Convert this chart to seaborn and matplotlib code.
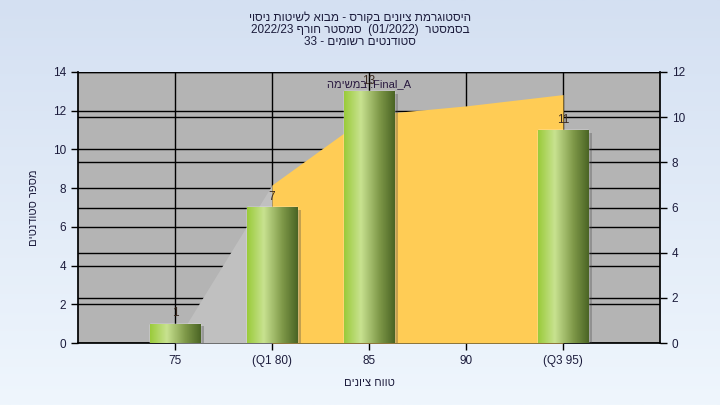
import numpy as np
import pandas as pd
import matplotlib
matplotlib.use("Agg")
import matplotlib.pyplot as plt
import matplotlib.patheffects as pe
from matplotlib.colors import LinearSegmentedColormap
import seaborn as sns

# data
grades = [75, 80, 85, 90, 95]
tick_labels = ["75", "(Q1 80)", "85", "90", "(Q3 95)"]
students = [1, 7, 13, 0, 11]
area_values = [0, 7.0, 10.1, 10.5, 11.0]   # secondary axis series

def vis(s):
    # matplotlib has no bidi support: lay the words out right to left,
    # flipping hebrew words, keeping numbers as they are
    out = []
    for tok in s.split(" ")[::-1]:
        if any("\u0590" <= c <= "\u05ff" for c in tok):
            tok = tok[::-1]
        out.append(tok)
    return " ".join(out)

title_lines = [
    vis("היסטוגרמת ציונים בקורס - מבוא לשיטות ניסוי"),
    vis("בסמסטר  (01/2022)  סמסטר חורף 2022/23"),
    vis("סטודנטים רשומים - 33"),
]
y_label = vis("מספר סטודנטים")
x_label = vis("טווח ציונים")
series_label = "במשימה"[::-1] + " :Final_A"

sns.set_theme(style="white")
plt.rcParams["font.family"] = ["Liberation Sans", "DejaVu Sans"]
text_col = "#1c1c3c"
x_range = (70, 100)

fig = plt.figure(figsize=(7.2, 4.05), dpi=100)

# background gradient
bg = fig.add_axes([0, 0, 1, 1], zorder=-10)
bg.imshow(np.linspace(0, 1, 256).reshape(-1, 1), aspect="auto",
          cmap=LinearSegmentedColormap.from_list("bg", ["#d4e0f2", "#eff6fd"]),
          extent=[0, 1, 0, 1])
bg.axis("off")

rect = [78 / 720, 62 / 405, 582 / 720, 271 / 405]
ax = fig.add_axes(rect)
ax.set_facecolor("#b4b4b4")
ax.set_xlim(*x_range)
ax.set_ylim(0, 14)
ax.set_yticks(range(0, 15, 2))
ax.set_xticks(grades)
ax.set_xticklabels(tick_labels)
ax.grid(True, color="black", lw=1)
ax.set_axisbelow(True)
ax.tick_params(direction="out", length=5, width=1, color="black",
               labelsize=8.5, labelcolor=text_col, left=True, bottom=True)
for sp in ax.spines.values():
    sp.set_color("black")
ax.spines["top"].set_visible(False)
ax.set_ylabel(y_label, fontsize=8, color=text_col, labelpad=10)
ax.set_xlabel(x_label, fontsize=8, color=text_col, labelpad=8)

# secondary axis with the area series
ax2 = ax.twinx()
ax2.set_ylim(0, 12)
ax2.set_yticks(range(0, 13, 2))
ax2.grid(True, axis="y", color="black", lw=1)
ax2.set_axisbelow(True)
ax2.tick_params(direction="out", length=5, width=1, color="black",
                labelsize=8.5, labelcolor=text_col, right=True)
for sp in ax2.spines.values():
    sp.set_visible(False)
ax2.fill_between(grades[:2], area_values[:2], color="#c0c0c0", lw=0, zorder=1)
ax2.fill_between(grades[1:], area_values[1:], color="#ffcc55", lw=0, zorder=1)

# bars on top, same scale as the left axis
ax3 = ax.twinx()
ax3.set_ylim(0, 14)
ax3.axis("off")
df = pd.DataFrame({"grade": grades, "students": students})
sns.barplot(data=df, x="grade", y="students", native_scale=True, width=2.6 / 5,
            color="#7fa040", ax=ax3, zorder=3)

cmap = LinearSegmentedColormap.from_list(
    "bar", [(0, "#9acb3a"), (0.33, "#c8e290"), (0.7, "#7e9848"), (1, "#4a6424")])
grad = np.linspace(0, 1, 256).reshape(1, -1)
for p in ax3.patches:
    if p.get_height() <= 0:
        p.set_visible(False)
        continue
    p.set_path_effects([pe.SimplePatchShadow(offset=(3, -2), shadow_rgbFace="#404040",
                                             alpha=0.3), pe.Normal()])
    x0, w, h = p.get_x(), p.get_width(), p.get_height()
    im = ax3.imshow(grad, aspect="auto", cmap=cmap, extent=[x0, x0 + w, 0, h], zorder=4)
    im.set_clip_path(p)
ax3.set_xlim(*x_range)
ax3.set_ylim(0, 14)

for x, v in zip(grades, students):
    if v > 0:
        ax3.annotate(str(v), (x, v), xytext=(0, 3), textcoords="offset points",
                     ha="center", va="bottom", fontsize=8.5, color="#3a2a20", zorder=6)

ax3.text(0.5, 0.955, series_label, transform=ax3.transAxes, ha="center", va="center",
         fontsize=8, color="#2a1a40", zorder=6)

for i, line in enumerate(title_lines):
    fig.text(0.5, (405 - 18 - 12 * i) / 405, line, ha="center", va="center",
             fontsize=8.5, color=text_col)

fig.savefig("out.png", dpi=100)
